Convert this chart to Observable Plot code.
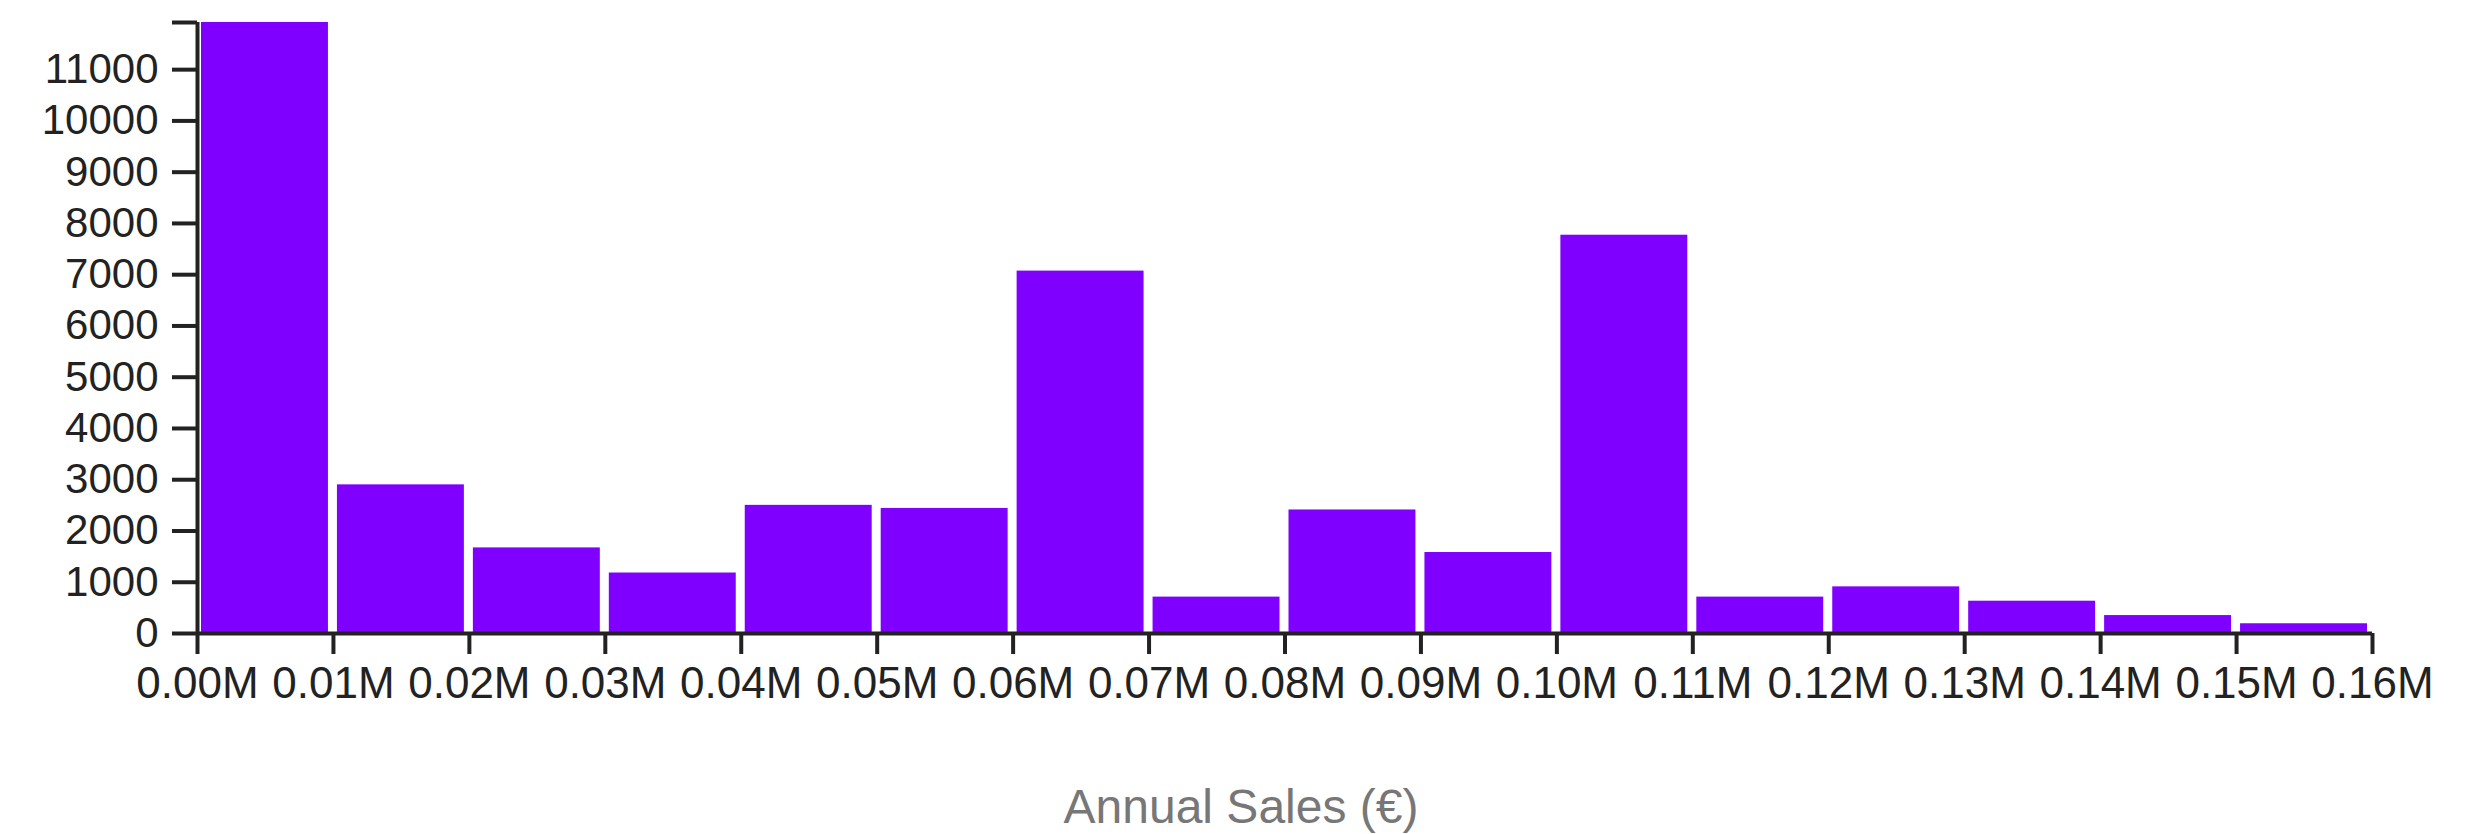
<!DOCTYPE html>
<html>
<head>
<meta charset="utf-8">
<script src="https://cdn.jsdelivr.net/npm/d3@7"></script>
<script src="https://cdn.jsdelivr.net/npm/@observablehq/plot@0.6"></script>
<style>
  html, body { margin: 0; padding: 0; background: #fff; }
  #chart svg { display: block; }
</style>
</head>
<body>
<div id="chart"></div>
<script>
// Bin lower edges (€) and bin width
const binStarts = [0, 10000, 20000, 30000, 40000, 50000, 60000, 70000, 80000, 90000, 100000, 110000, 120000, 130000, 140000, 150000];
const binWidth = 10000;
// Count of records per bin
const counts = [11920, 2900, 1670, 1180, 2500, 2440, 7070, 710, 2410, 1580, 7770, 710, 910, 630, 350, 190];
// Axis ticks
const xTicks = [0, 10000, 20000, 30000, 40000, 50000, 60000, 70000, 80000, 90000, 100000, 110000, 120000, 130000, 140000, 150000, 160000];
const yTicks = [0, 1000, 2000, 3000, 4000, 5000, 6000, 7000, 8000, 9000, 10000, 11000];
const xLabel = "Annual Sales (€)";

const bins = binStarts.map((s, i) => ({x0: s, x1: s + binWidth, count: counts[i]}));
const yMax = d3.max(counts);

const axisColor = "#222";

const chart = Plot.plot({
  width: 2479,
  height: 834,
  marginLeft: 197,
  marginRight: 107,
  marginTop: 22,
  marginBottom: 201,
  style: {fontFamily: "'Liberation Sans', Arial, sans-serif", background: "#fff"},
  x: {type: "linear", domain: [0, 160000], axis: null},
  y: {domain: [0, yMax], axis: null},
  marks: [
    Plot.rectY(bins, {x1: "x0", x2: "x1", y: "count", fill: "#8000ff", insetLeft: 4, insetRight: 5}),
    Plot.ruleX([0], {stroke: axisColor, strokeWidth: 4}),
    Plot.ruleY([0], {stroke: axisColor, strokeWidth: 4}),
    Plot.axisY({
      ticks: yTicks,
      tickSize: 25,
      tickPadding: 14,
      fontSize: 42,
      stroke: axisColor,
      strokeWidth: 4,
      color: axisColor,
      tickFormat: d => String(d),
      label: null
    }),
    Plot.axisY({
      ticks: [yMax],
      tickSize: 25,
      stroke: axisColor,
      strokeWidth: 4,
      tickFormat: () => "",
      label: null
    }),
    Plot.axisX({
      ticks: xTicks,
      tickSize: 21,
      tickPadding: 12,
      fontSize: 44,
      stroke: axisColor,
      strokeWidth: 4,
      color: axisColor,
      tickFormat: d => (d / 1e6).toFixed(2) + "M",
      label: null
    }),
    Plot.text([xLabel], {
      frameAnchor: "bottom",
      text: d => d,
      dy: 189,
      dx: -44,
      fontSize: 48,
      fill: "#777"
    })
  ]
});
document.getElementById("chart").appendChild(chart);
</script>
</body>
</html>
